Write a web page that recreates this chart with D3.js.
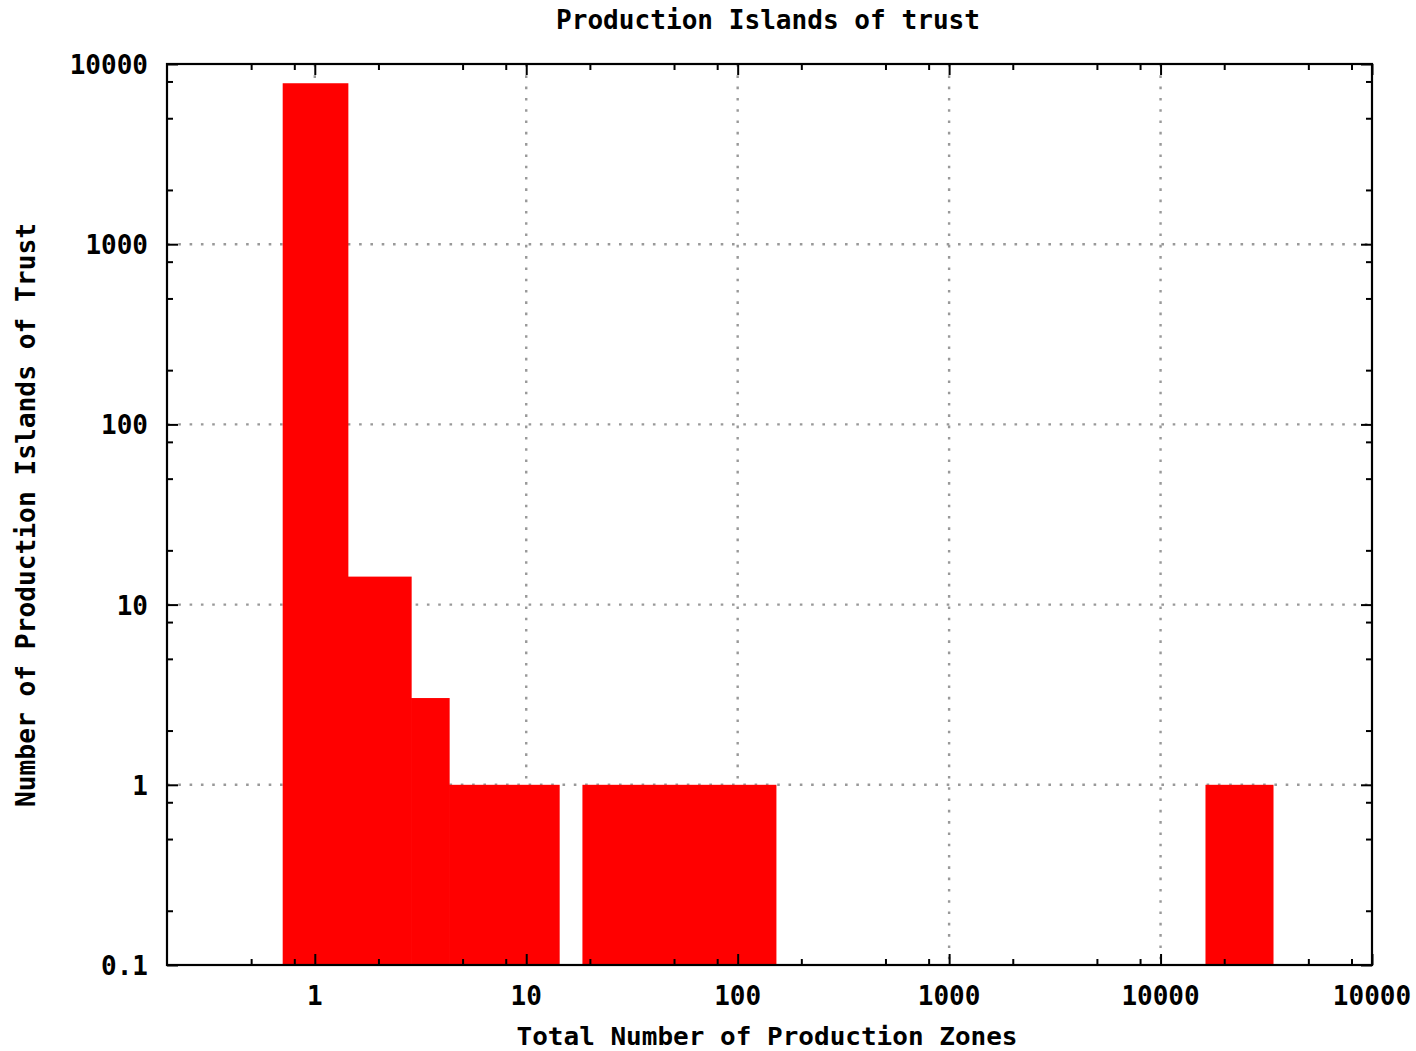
<!DOCTYPE html>
<html>
<head>
<meta charset="utf-8">
<script src="https://cdn.jsdelivr.net/npm/d3@7"></script>
<style>
  body { margin: 0; background: #fff; }
  svg { display: block; }
  text { font-family: "DejaVu Sans Mono", "Liberation Mono", monospace; font-weight: bold; fill: #000; }
</style>
</head>
<body>
<div id="chart"></div>
<script>
// histogram bins (log-spaced boxes) and counts
const binLo  = [0.705, 1.432, 2.853, 4.315, 18.44, 16310];
const binHi  = [1.432, 2.853, 4.315, 14.30, 151.5, 33990];
const counts = [7820, 14.3, 3.03, 1, 1, 1];

const xTicks = [1, 10, 100, 1000, 10000, 100000];
const xTickLabels = ['1', '10', '100', '1000', '10000', '10000'];
const yTicks = [0.1, 1, 10, 100, 1000, 10000];
const yTickLabels = ['0.1', '1', '10', '100', '1000', '10000'];
const minorMult = [2, 5, 8];

const title  = 'Production Islands of trust';
const xTitle = 'Total Number of Production Zones';
const yTitle = 'Number of Production Islands of Trust';

const width = 1416, height = 1051;
const pad = {l: 167, r: 1372, t: 64, b: 965};

const svg = d3.select('#chart').append('svg')
  .attr('width', width).attr('height', height);

const x = d3.scaleLog().domain([0.2, 100000]).range([pad.l, pad.r]);
const y = d3.scaleLog().domain([0.1, 10000]).range([pad.b, pad.t]);

// minor tick positions: 2,5,8 times every decade inside the domain
function minors(scale) {
  const [a, b] = scale.domain();
  let out = [];
  for (let e = Math.floor(Math.log10(a)); e <= Math.ceil(Math.log10(b)); e++) {
    minorMult.forEach(m => {
      const v = m * Math.pow(10, e);
      if (v > a * 1.0001 && v < b * 0.9999) out.push(v);
    });
  }
  return out;
}

// grid (behind bars)
const grid = svg.append('g')
  .attr('stroke', '#999').attr('stroke-width', 2.4)
  .attr('stroke-dasharray', '2.6,8.7');
xTicks.filter(v => x(v) < pad.r - 1).forEach(v => {
  grid.append('line')
    .attr('x1', x(v)).attr('x2', x(v))
    .attr('y1', pad.t).attr('y2', pad.b);
});
yTicks.filter(v => y(v) > pad.t + 1 && y(v) < pad.b - 1).forEach(v => {
  grid.append('line')
    .attr('x1', pad.l).attr('x2', pad.r)
    .attr('y1', y(v)).attr('y2', y(v));
});

// bars
svg.append('g').selectAll('rect')
  .data(counts)
  .join('rect')
  .attr('x', (d, i) => x(binLo[i]))
  .attr('width', (d, i) => x(binHi[i]) - x(binLo[i]) + 0.6)
  .attr('y', d => y(d))
  .attr('height', d => y(0.1) - y(d))
  .attr('fill', '#ff0000');

// ticks on all four sides, pointing inward
function ticks(axis, vals, size) {
  return axis.tickValues(vals).tickSize(-size).tickFormat('');
}
[
  [() => d3.axisBottom(x), `translate(0, ${pad.b})`, xTicks, minors(x)],
  [() => d3.axisTop(x),    `translate(0, ${pad.t})`, xTicks, minors(x)],
  [() => d3.axisLeft(y),   `translate(${pad.l}, 0)`, yTicks, minors(y)],
  [() => d3.axisRight(y),  `translate(${pad.r}, 0)`, yTicks, minors(y)]
].forEach(([mk, tr, major, minor]) => {
  svg.append('g').attr('transform', tr).call(ticks(mk(), major, 11));
  svg.append('g').attr('transform', tr).call(ticks(mk(), minor, 6));
});
svg.selectAll('.domain').remove();
svg.selectAll('.tick line').attr('stroke', '#000').attr('stroke-width', 2);

// frame
svg.append('rect')
  .attr('x', pad.l).attr('y', pad.t)
  .attr('width', pad.r - pad.l).attr('height', pad.b - pad.t)
  .attr('fill', 'none').attr('stroke', '#000').attr('stroke-width', 2.2);

// tick labels
svg.append('g').selectAll('text')
  .data(xTicks)
  .join('text')
  .attr('x', d => x(d)).attr('y', 1005)
  .attr('text-anchor', 'middle')
  .attr('font-size', 26)
  .text((d, i) => xTickLabels[i]);

svg.append('g').selectAll('text')
  .data(yTicks)
  .join('text')
  .attr('x', 148).attr('y', d => y(d) + 10)
  .attr('text-anchor', 'end')
  .attr('font-size', 26)
  .text((d, i) => yTickLabels[i]);

// titles
svg.append('text')
  .attr('x', 768).attr('y', 29)
  .attr('text-anchor', 'middle').attr('font-size', 26)
  .attr('textLength', 424).attr('lengthAdjust', 'spacingAndGlyphs')
  .text(title);

svg.append('text')
  .attr('x', 767).attr('y', 1045)
  .attr('text-anchor', 'middle').attr('font-size', 25)
  .attr('textLength', 501).attr('lengthAdjust', 'spacingAndGlyphs')
  .text(xTitle);

svg.append('text')
  .attr('transform', 'translate(35, 515) rotate(-90)')
  .attr('text-anchor', 'middle').attr('font-size', 26)
  .attr('textLength', 584).attr('lengthAdjust', 'spacingAndGlyphs')
  .text(yTitle);
</script>
</body>
</html>
